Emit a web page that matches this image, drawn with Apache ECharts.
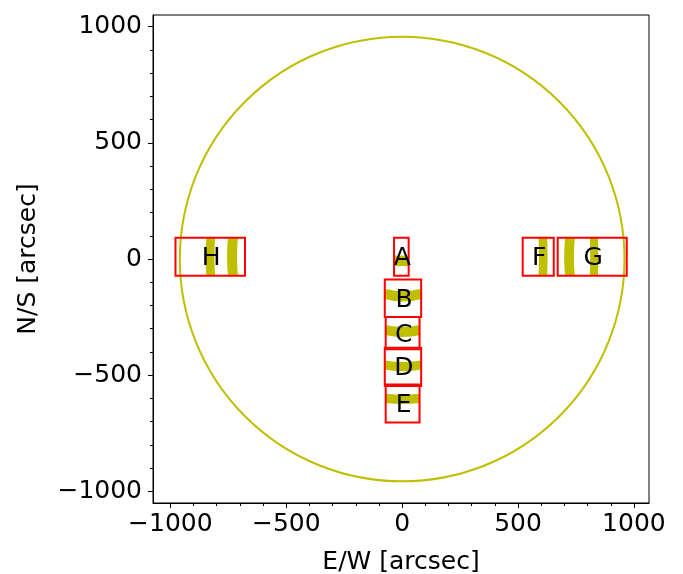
<!DOCTYPE html>
<html><head><meta charset="utf-8">
<script src="https://cdn.jsdelivr.net/npm/echarts@6/dist/echarts.min.js"></script>
<style>html,body{margin:0;padding:0;background:#fff}#c{width:683px;height:574px}</style>
</head><body><div id="c"></div>
<script>
// ---- data ----
const majorTicks = [-1000, -500, 0, 500, 1000];
const minorTicks = [-1000, -900, -800, -700, -600, -500, -400, -300, -200, -100, 0,
                    100, 200, 300, 400, 500, 600, 700, 800, 900, 1000];
const solarRadius = 958;

const boxNames = ['A', 'B', 'C', 'D', 'E', 'F', 'G', 'H'];
const boxX0 = [-35, -75, -71, -75, -71, 520, 671, -978];
const boxX1 = [28, 82, 75, 82, 75, 654, 969, -678];
const boxY0 = [-72, -250, -388, -546, -704, -72, -72, -72];
const boxY1 = [91, -88, -250, -382, -540, 91, 91, 91];

const bandBox = ['H', 'H', 'F', 'G', 'G', 'A', 'B', 'C', 'D', 'E'];
const bandDir = ['v', 'v', 'v', 'v', 'v', 'h', 'h', 'h', 'h', 'h'];
const bandEnd = [-826, -730, 607, 724, 827, -8, -150, -306, -456, -600];
const bandMid = [-829, -734, 609, 720, 829, -8, -161, -314, -463, -604];
const bandWidth = [38, 43, 37, 42, 35, 45, 44, 43, 40, 40];

// ---- style ----
const YEL = '#bfbf00';
const RED = '#ff0000';
const FONT = 'DejaVu Sans';
const minus = v => String(v).replace('-', '\u2212');

const chart = echarts.init(document.getElementById('c'), null, {renderer: 'canvas'});

function axisBase(extra) {
  return Object.assign({
    type: 'value',
    splitLine: {show: false},
  }, extra);
}

const option = {
  animation: false,
  backgroundColor: '#fff',
  grid: {left: 153, top: 15, width: 496, height: 488, show: true,
         borderColor: '#000', borderWidth: 1, backgroundColor: 'transparent',
         containLabel: false, outerBoundsMode: 'none'},
  xAxis: [
    axisBase({
      min: -1075, max: 1065, position: 'bottom',
      axisLine: {show: true, onZero: false, lineStyle: {color: '#000', width: 1}},
      axisTick: {show: true, length: 5, customValues: majorTicks, lineStyle: {color: '#000', width: 1}},
      axisLabel: {customValues: majorTicks, formatter: minus, color: '#000', fontSize: 25,
                  fontFamily: FONT, margin: 9},
      name: 'E/W [arcsec]', nameLocation: 'middle', nameGap: 47,
      nameTextStyle: {color: '#000', fontSize: 25, fontFamily: FONT}
    }),
    axisBase({
      min: -1075, max: 1065, position: 'bottom',
      axisLine: {show: false, onZero: false},
      axisTick: {show: true, length: 3, customValues: minorTicks, lineStyle: {color: '#000', width: 1}},
      axisLabel: {show: false}
    })
  ],
  yAxis: [
    axisBase({
      min: -1050, max: 1050, position: 'left',
      axisLine: {show: true, onZero: false, lineStyle: {color: '#000', width: 1}},
      axisTick: {show: true, length: 5, customValues: majorTicks, lineStyle: {color: '#000', width: 1}},
      axisLabel: {customValues: majorTicks, formatter: minus, color: '#000', fontSize: 25,
                  fontFamily: FONT, margin: 11},
      name: 'N/S [arcsec]', nameLocation: 'middle', nameGap: 112, nameRotate: 90,
      nameTextStyle: {color: '#000', fontSize: 25, fontFamily: FONT}
    }),
    axisBase({
      min: -1050, max: 1050, position: 'left',
      axisLine: {show: false, onZero: false},
      axisTick: {show: true, length: 3, customValues: minorTicks, lineStyle: {color: '#000', width: 1}},
      axisLabel: {show: false}
    })
  ],
  series: [
    {
      type: 'custom', name: 'limb', z: 2, clip: true,
      data: [[0, 0, solarRadius]],
      renderItem: function (params, api) {
        const c = api.coord([api.value(0), api.value(1)]);
        const s = api.size([api.value(2), api.value(2)]);
        return {type: 'circle', shape: {cx: c[0], cy: c[1], r: (s[0] + s[1]) / 2},
                style: {fill: 'none', stroke: YEL, lineWidth: 2}};
      }
    },
    {
      type: 'custom', name: 'bands', z: 3, clip: true,
      data: bandBox.map((b, i) => [i, bandEnd[i], bandMid[i], bandWidth[i]]),
      renderItem: function (params, api) {
        const i = api.value(0);
        const b = boxNames.indexOf(bandBox[i]);
        const e = api.value(1), m = api.value(2), w = api.value(3);
        let pts, lw;
        if (bandDir[i] === 'v') {
          pts = [[e, boxY1[b]], [m, (boxY0[b] + boxY1[b]) / 2], [e, boxY0[b]]];
          lw = api.size([w, 0])[0];
        } else {
          pts = [[boxX0[b], e], [(boxX0[b] + boxX1[b]) / 2, m], [boxX1[b], e]];
          lw = api.size([0, w])[1];
        }
        return {type: 'polyline', shape: {points: pts.map(p => api.coord(p)), smooth: 0.5},
                style: {fill: 'none', stroke: YEL, lineWidth: lw, lineCap: 'butt'}};
      }
    },
    {
      type: 'custom', name: 'boxes', z: 4, clip: false,
      data: boxNames.map((n, i) => [i, boxX0[i], boxX1[i], boxY0[i], boxY1[i]]),
      renderItem: function (params, api) {
        const i = api.value(0);
        const p0 = api.coord([api.value(1), api.value(4)]);
        const p1 = api.coord([api.value(2), api.value(3)]);
        const c = api.coord([(api.value(1) + api.value(2)) / 2, (api.value(3) + api.value(4)) / 2]);
        return {type: 'group', children: [
          {type: 'rect', shape: {x: p0[0], y: p0[1], width: p1[0] - p0[0], height: p1[1] - p0[1]},
           style: {fill: 'none', stroke: RED, lineWidth: 2}},
          {type: 'text', style: {text: boxNames[i], x: c[0] + 1, y: c[1] + 2, align: 'center',
           verticalAlign: 'middle', fontSize: 25, fontFamily: FONT, fill: '#000'}}
        ]};
      }
    }
  ]
};
chart.setOption(option);
</script>
</body></html>
